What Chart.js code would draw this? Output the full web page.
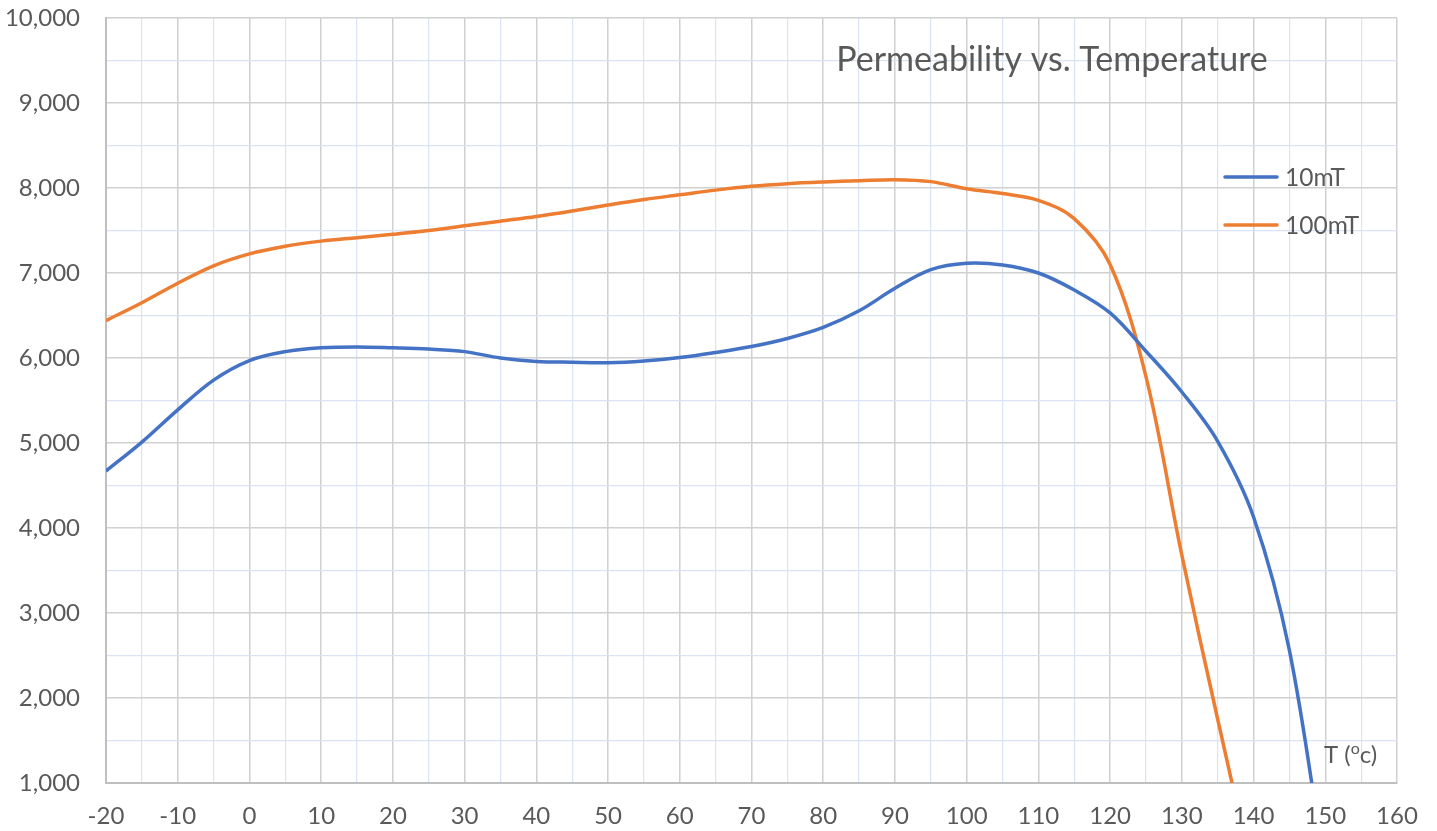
<!DOCTYPE html>
<html>
<head>
<meta charset="utf-8">
<script src="https://cdn.jsdelivr.net/npm/chart.js@4/dist/chart.umd.min.js"></script>
<style>
  html, body { margin: 0; padding: 0; background: #fff; }
  #wrap { width: 1437px; height: 831px; position: relative; }
</style>
</head>
<body>
<div id="wrap"><canvas id="permChart"></canvas></div>
<script>
// ── Data ─────────────────────────────────────────────
const temps = [-20, -15, -10, -5, 0, 5, 10, 15, 20, 25, 30, 35, 40, 45, 50, 55, 60, 65, 70, 75, 80, 85, 90, 95, 100, 105, 110, 115, 120, 125, 130, 135, 140, 145, 150];
const perm10mT = [4670, 5010, 5390, 5740, 5970, 6075, 6120, 6130, 6120, 6105, 6075, 6000, 5960, 5950, 5945, 5965, 6005, 6065, 6135, 6230, 6360, 6555, 6820, 7040, 7115, 7095, 7000, 6800, 6530, 6080, 5600, 5020, 4130, 2560, -50];
const perm100mT = [6440, 6650, 6880, 7085, 7225, 7315, 7375, 7415, 7455, 7500, 7555, 7610, 7665, 7730, 7800, 7865, 7920, 7975, 8020, 8050, 8070, 8085, 8098, 8075, 7990, 7935, 7855, 7640, 7100, 5780, 3680, 1750, -120, null, null];
const seriesLabels = ['10mT', '100mT'];
const chartTitle = 'Permeability vs. Temperature';
const xTickStep = 5, xMin = -20, xMax = 160;
const yTickStep = 500, yMin = 1000, yMax = 10000;

const FONT = 'Lato, "Open Sans", sans-serif';
const TEXT = '#595959';

const toPoints = vals => temps.map((t, i) => ({ x: t, y: vals[i] })).filter(p => p.y !== null);

// Title, legend and axis caption drawn inside the plot like the Excel original
const overlayPlugin = {
  id: 'overlay',
  afterDraw(chart) {
    const c = chart.ctx;
    c.save();
    c.fillStyle = TEXT;
    c.textBaseline = 'alphabetic';

    // title
    c.font = `34px ${FONT}`;
    c.textAlign = 'center';
    c.fillText(chartTitle, 1052, 71);

    // legend
    c.textAlign = 'left';
    c.font = `24.5px ${FONT}`;
    chart.data.datasets.forEach((ds, i) => {
      const y = 177 + i * 48;
      c.strokeStyle = ds.borderColor;
      c.lineWidth = 3.5;
      c.lineCap = 'round';
      c.beginPath();
      c.moveTo(1225, y);
      c.lineTo(1277, y);
      c.stroke();
      c.fillText(ds.label, 1285, y + 9);
    });

    // x axis caption T (°c)
    let x = 1324;
    const base = 763;
    c.font = `24px ${FONT}`;
    c.fillText('T (', x, base);
    x += c.measureText('T (').width;
    c.font = `16px ${FONT}`;
    c.fillText('o', x, base - 9);
    x += c.measureText('o').width;
    c.font = `24px ${FONT}`;
    c.fillText('c)', x, base);
    c.restore();
  }
};

new Chart(document.getElementById('permChart').getContext('2d'), {
  type: 'line',
  data: {
    datasets: [
      { label: seriesLabels[0], data: toPoints(perm10mT), borderColor: '#4472C4', borderWidth: 3.5, pointRadius: 0, tension: 0.35, fill: false },
      { label: seriesLabels[1], data: toPoints(perm100mT), borderColor: '#ED7D31', borderWidth: 3.5, pointRadius: 0, tension: 0.35, fill: false }
    ]
  },
  options: {
    responsive: true,
    maintainAspectRatio: false,
    animation: false,
    layout: { padding: { left: 0, right: 40, top: 18, bottom: 0 } },
    plugins: {
      legend: { display: false },
      title: { display: false },
      tooltip: { enabled: false }
    },
    scales: {
      x: {
        type: 'linear',
        min: xMin,
        max: xMax,
        afterFit: s => { s.height = 48; s.paddingLeft = 0; s.paddingRight = 0; },
        border: { color: '#bfbfbf', width: 2 },
        grid: {
          drawTicks: false,
          color: ctx => ctx.tick && ctx.tick.value % 10 === 0 ? '#d0d0d0' : '#dae3f3',
          lineWidth: ctx => ctx.tick && ctx.tick.value % 10 === 0 ? 1.5 : 1.2
        },
        ticks: {
          stepSize: xTickStep,
          autoSkip: false,
          maxRotation: 0,
          padding: 19,
          color: TEXT,
          font: { family: FONT, size: 24 },
          callback: v => (v % 10 === 0 ? String(v) : '')
        }
      },
      y: {
        min: yMin,
        max: yMax,
        afterFit: s => { s.width = 106; s.paddingTop = 0; s.paddingBottom = 0; },
        border: { color: '#bfbfbf', width: 2 },
        grid: {
          drawTicks: false,
          color: ctx => ctx.tick && ctx.tick.value % 1000 === 0 ? '#d0d0d0' : '#dae3f3',
          lineWidth: ctx => ctx.tick && ctx.tick.value % 1000 === 0 ? 1.5 : 1.2
        },
        ticks: {
          stepSize: yTickStep,
          autoSkip: false,
          padding: 26,
          color: TEXT,
          font: { family: FONT, size: 24 },
          callback: v => (v % 1000 === 0 ? v.toLocaleString('en-US') : '')
        }
      }
    }
  },
  plugins: [overlayPlugin]
});
</script>
</body>
</html>
